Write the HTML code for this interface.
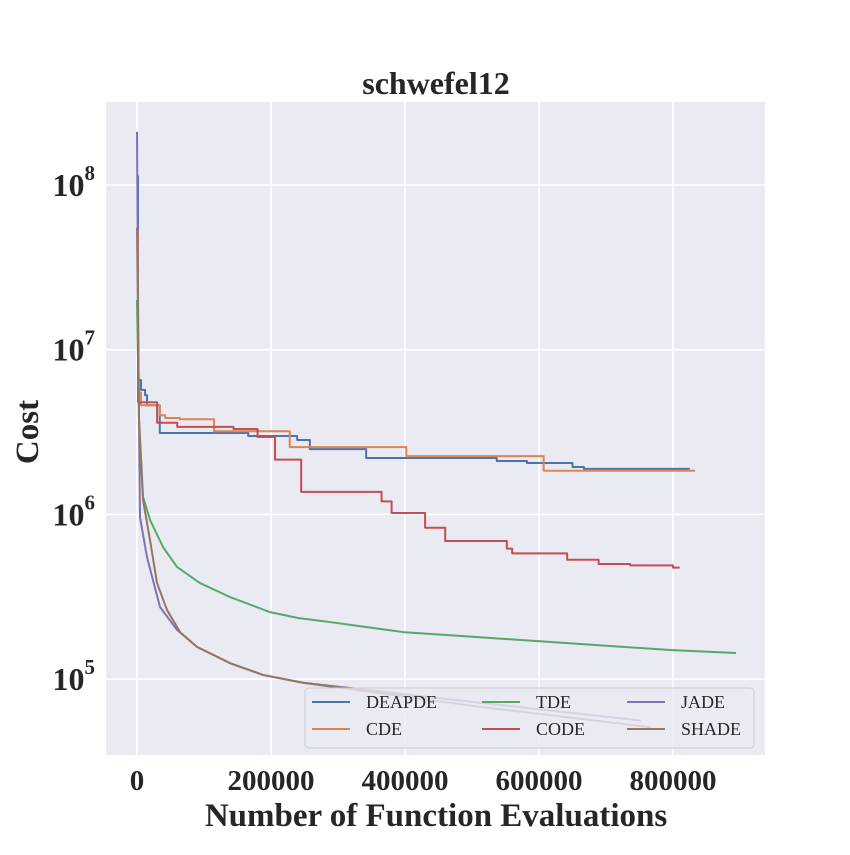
<!DOCTYPE html>
<html><head><meta charset="utf-8"><style>
body{margin:0;background:#fff;}
svg text{font-family:"Liberation Serif",serif;}
</style></head><body>
<svg id="chart" width="850" height="850" viewBox="0 0 850 850" xmlns="http://www.w3.org/2000/svg">
<defs><clipPath id="clip"><rect x="106" y="102" width="659" height="653"/></clipPath></defs>
<rect x="106" y="102" width="659" height="653" fill="#eaeaf2"/>
<g id="grid"></g>
<g id="series" clip-path="url(#clip)"></g>
<g id="ticks"></g>
<text x="436" y="94" text-anchor="middle" font-size="32" font-weight="bold" fill="#262626">schwefel12</text>
<text x="436" y="826" text-anchor="middle" font-size="33" font-weight="bold" fill="#262626">Number of Function Evaluations</text>
<text transform="translate(38,432) rotate(-90)" text-anchor="middle" font-size="33" font-weight="bold" fill="#262626">Cost</text>
<g id="legend"></g>
</svg>
<script>
const xTicks=[0,200000,400000,600000,800000];
const yDecades=[5,6,7,8];
const seriesNames=["DEAPDE","CDE","TDE","CODE","JADE","SHADE"];
const seriesColors=["#4c72b0","#dd8452","#55a868","#c44e52","#8172b3","#937860"];
const deapdeX=[0,1500,6000,12000,15000,34000,166000,239000,258000,342000,537000,582000,650000,667000,825000];
const deapdeY=[1.13e8,6.55e6,5.7e6,5.3e6,4.6e6,3.12e6,2.99e6,2.83e6,2.49e6,2.2e6,2.11e6,2.05e6,1.94e6,1.89e6,1.89e6];
const cdeX=[0,1500,6000,34000,42000,64000,115000,228000,402000,607000,833000];
const cdeY=[5.3e7,5.5e6,4.6e6,4.0e6,3.85e6,3.78e6,3.2e6,2.56e6,2.26e6,1.84e6,1.84e6];
const tdeX=[0,3000,6000,9000,19400,38800,59700,94000,138800,198500,240300,288000,397000,598500,798500,894000];
const tdeY=[2.0e7,3.74e6,2.2e6,1.28e6,9.25e5,6.34e5,4.8e5,3.83e5,3.15e5,2.55e5,2.35e5,2.22e5,1.93e5,1.70e5,1.50e5,1.44e5];
const codeX=[0,1500,30000,60000,144000,180000,206000,245000,365000,380000,430000,460000,552000,560000,642000,689000,736000,800000,810000];
const codeY=[1.9e7,4.8e6,3.6e6,3.4e6,3.3e6,2.95e6,2.15e6,1.37e6,1.2e6,1.02e6,8.3e5,6.9e5,6.2e5,5.8e5,5.3e5,5.0e5,4.9e5,4.75e5,4.75e5];
const jadeX=[0,1500,3000,4500,14900,34300,59700,89500,138800,188000,247800,510400,752200];
const jadeY=[2.1e8,2.0e7,3.74e6,9.6e5,5.5e5,2.74e5,1.99e5,1.57e5,1.25e5,1.06e5,9.5e4,7.2e4,5.6e4];
const shadeX=[0,3000,9000,19400,29900,44800,64200,89500,138800,188000,247800,510400,767000];
const shadeY=[5.5e7,3.74e6,1.22e6,7.0e5,3.83e5,2.63e5,1.93e5,1.57e5,1.25e5,1.06e5,9.5e4,6.8e4,5.1e4];

const NS="http://www.w3.org/2000/svg";
function xs(v){return 137+v/200000*134;}
function ys(v){return 185+(8-Math.log10(v))*164.7;}
function mk(tag,attrs,parent){const e=document.createElementNS(NS,tag);for(const k in attrs)e.setAttribute(k,attrs[k]);parent.appendChild(e);return e;}
const grid=document.getElementById('grid'),ticks=document.getElementById('ticks');
xTicks.forEach(t=>{
  const l=mk('line',{x1:xs(t),x2:xs(t),y1:102,y2:755,stroke:'#fff','stroke-width':1.5},grid);
  
  
  const tx=mk('text',{x:xs(t),y:790,'text-anchor':'middle','font-size':29,'font-weight':'bold',fill:'#262626'},ticks);
  tx.textContent=String(t);
  
  
});
yDecades.forEach(d=>{
  const y=ys(Math.pow(10,d));
  const l=mk('line',{x1:106,x2:765,y1:y,y2:y,stroke:'#fff','stroke-width':1.5},grid);
  
  
  const tx=mk('text',{x:95,y:y+11,'text-anchor':'end','font-size':32,'font-weight':'bold',fill:'#262626'},ticks);
  tx.innerHTML='10<tspan font-size="21" dy="-16">'+d+'</tspan>';
  
  
});
const ser=document.getElementById('series');
function stepPath(X,Y){let d='M'+xs(X[0])+','+ys(Y[0]);for(let i=1;i<X.length;i++){d+=' L'+xs(X[i])+','+ys(Y[i-1])+' L'+xs(X[i])+','+ys(Y[i]);}return d;}
function linePath(X,Y){return X.map((x,i)=>(i?'L':'M')+xs(x)+','+ys(Y[i])).join(' ');}
const data=[[deapdeX,deapdeY,1],[cdeX,cdeY,1],[tdeX,tdeY,0],[codeX,codeY,1],[jadeX,jadeY,0],[shadeX,shadeY,0]];
data.forEach((s,i)=>{
  const p=mk('path',{d:s[2]?stepPath(s[0],s[1]):linePath(s[0],s[1]),fill:'none',stroke:seriesColors[i],'stroke-width':2,'stroke-linejoin':'round'},ser);
  
  
});
const lg=document.getElementById('legend');
const box=mk('rect',{x:305,y:688,width:449,height:60,rx:4,fill:'#eaeaf2','fill-opacity':0.8,stroke:'#cccccc','stroke-width':1},lg);


const colX=[312,482,627],rowY=[702,729];
seriesNames.forEach((n,i)=>{
  const c=Math.floor(i/2),r=i%2;
  const g=mk('g',{},lg);
  
  
  mk('line',{x1:colX[c],x2:colX[c]+38,y1:rowY[r],y2:rowY[r],stroke:seriesColors[i],'stroke-width':2},g);
  const t=mk('text',{x:colX[c]+54,y:rowY[r]+6,'font-size':18,fill:'#262626'},g);
  t.textContent=n;
});
</script>
</body></html>
